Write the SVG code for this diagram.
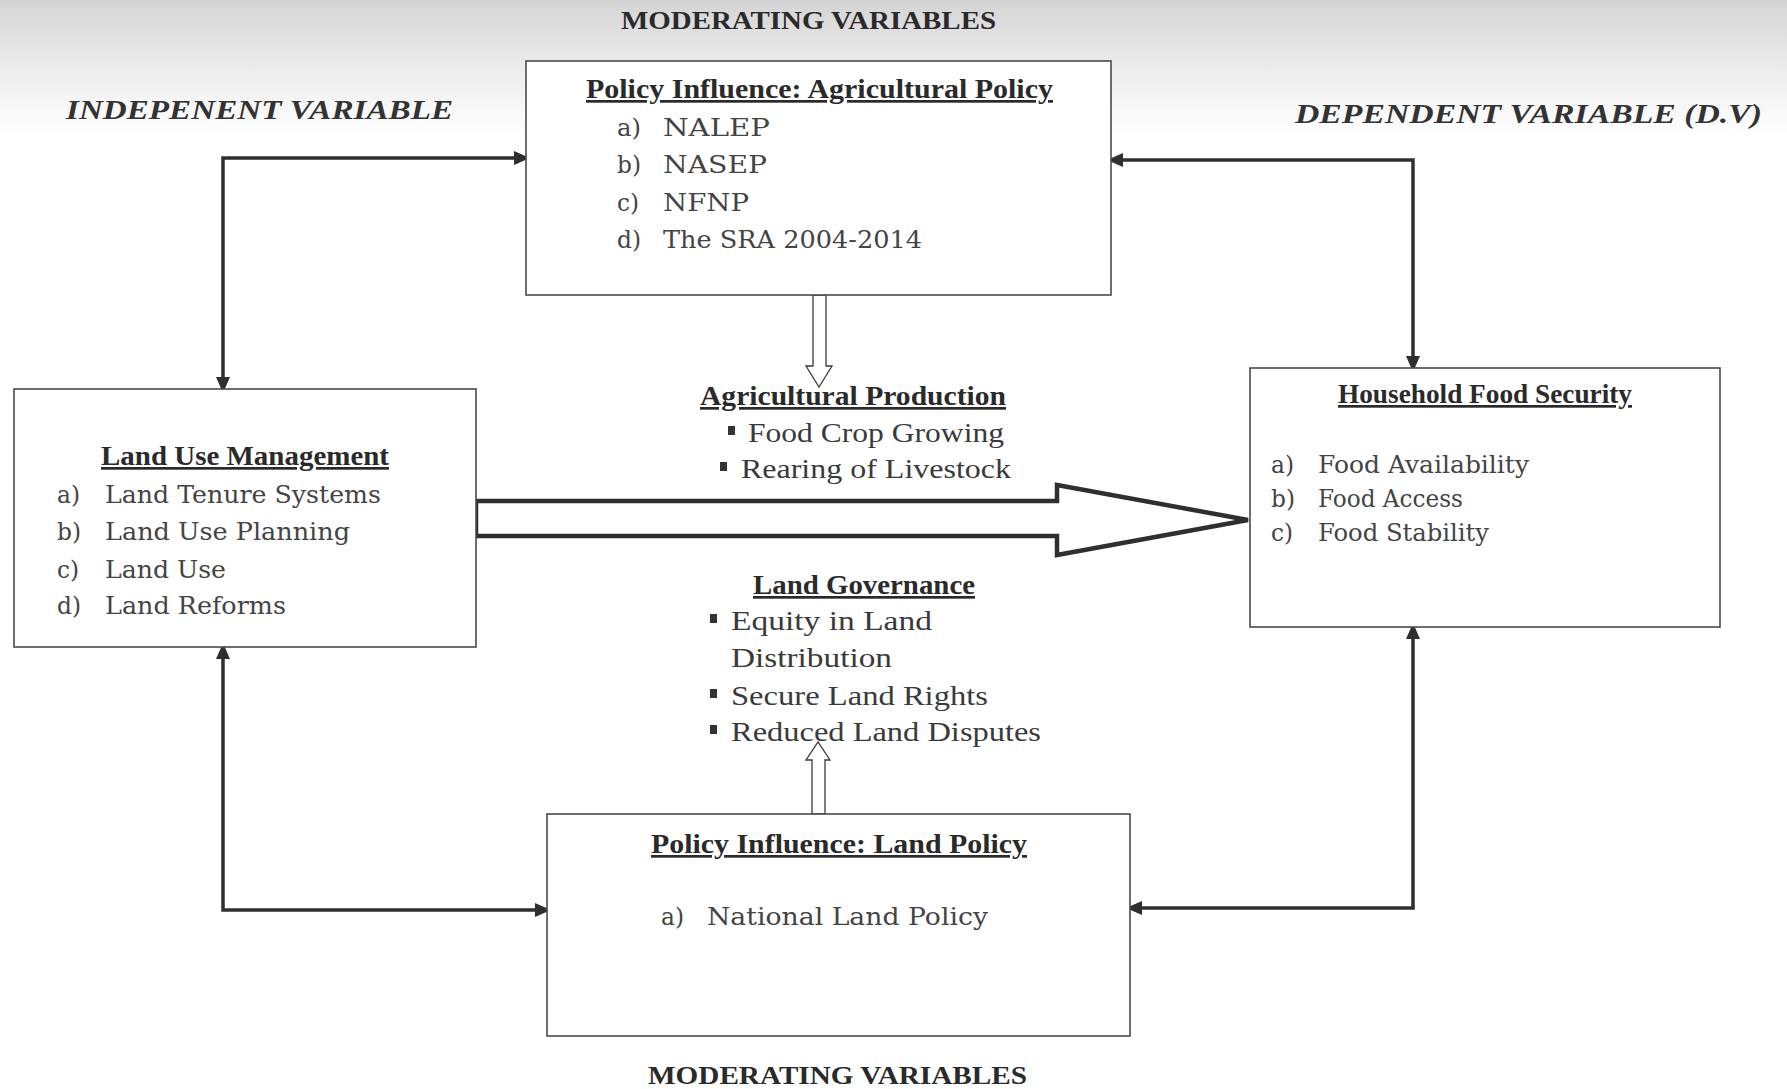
<svg xmlns="http://www.w3.org/2000/svg" width="1787" height="1089" viewBox="0 0 1787 1089">
<defs>
<linearGradient id="bg" x1="0" y1="0" x2="0" y2="1">
<stop offset="0" stop-color="#d4d4d4"/>
<stop offset="0.5" stop-color="#ececec"/>
<stop offset="1" stop-color="#ffffff"/>
</linearGradient>
<marker id="ah" markerUnits="userSpaceOnUse" markerWidth="16" markerHeight="14" refX="12" refY="7" orient="auto-start-reverse" viewBox="0 0 16 14">
<path d="M0,0 L16,7 L0,14 z" fill="#2f2f2f"/>
</marker>
<style>
.box{fill:#ffffff;stroke:#4a4a4a;stroke-width:1.6}
.conn{fill:none;stroke:#2f2f2f;stroke-width:3.5}
.hollow{fill:#ffffff;stroke:#3a3a3a;stroke-width:1.3}
.big{fill:#ffffff;stroke:#2f2f2f;stroke-width:4.5;stroke-linejoin:miter}
.hdr{font-family:"Liberation Serif",serif;font-weight:bold;fill:#2a2a2a}
.side{font-family:"Liberation Serif",serif;font-weight:bold;font-style:italic;fill:#333333;font-size:27px}
.ttl{font-family:"Liberation Serif",serif;font-weight:bold;fill:#2a2a2a;font-size:27px;text-decoration:underline}
.itm{font-family:"DejaVu Serif",serif;fill:#444444;font-size:24px}
.mid{font-family:"Liberation Serif",serif;fill:#3a3a3a;font-size:27px}
.bul{fill:#333333}
</style>
</defs>
<rect x="0" y="0" width="1787" height="1089" fill="#ffffff"/>
<rect x="0" y="0" width="1787" height="135" fill="url(#bg)"/>

<text class="hdr" x="621" y="29" font-size="25" textLength="375" lengthAdjust="spacingAndGlyphs">MODERATING VARIABLES</text>
<text class="side" x="66" y="119" textLength="387" lengthAdjust="spacingAndGlyphs">INDEPENENT VARIABLE</text>
<text class="side" x="1295" y="123" textLength="467" lengthAdjust="spacingAndGlyphs">DEPENDENT VARIABLE (D.V)</text>
<text class="hdr" x="648" y="1084" font-size="25" textLength="379" lengthAdjust="spacingAndGlyphs">MODERATING VARIABLES</text>

<g id="connectors">
<path class="conn" d="M223 389 V158 H526" marker-start="url(#ah)" marker-end="url(#ah)"/>
<path class="conn" d="M1111 160 H1413 V368" marker-start="url(#ah)" marker-end="url(#ah)"/>
<path class="conn" d="M223 647 V910 H547" marker-start="url(#ah)" marker-end="url(#ah)"/>
<path class="conn" d="M1413 627 V908 H1130" marker-start="url(#ah)" marker-end="url(#ah)"/>
<polygon class="big" points="476,501 1057,501 1057,485 1248,520 1057,555 1057,536 476,536"/>
<polygon class="hollow" points="813,295 826,295 826,366 832,366 819,387 806,366 813,366"/>
<polygon class="hollow" points="812,814 825,814 825,760 830,760 818,742 806,760 812,760"/>
</g>

<g id="agricultural-policy">
<rect class="box" x="526" y="61" width="585" height="234"/>
<text class="ttl" x="586" y="98" textLength="467" lengthAdjust="spacingAndGlyphs">Policy Influence: Agricultural Policy</text>
<text class="itm" x="617" y="136" textLength="24" lengthAdjust="spacingAndGlyphs">a)</text>
<text class="itm" x="663" y="136" textLength="107" lengthAdjust="spacingAndGlyphs">NALEP</text>
<text class="itm" x="617" y="173" textLength="24" lengthAdjust="spacingAndGlyphs">b)</text>
<text class="itm" x="663" y="173" textLength="104" lengthAdjust="spacingAndGlyphs">NASEP</text>
<text class="itm" x="617" y="211" textLength="22" lengthAdjust="spacingAndGlyphs">c)</text>
<text class="itm" x="663" y="211" textLength="86" lengthAdjust="spacingAndGlyphs">NFNP</text>
<text class="itm" x="617" y="248" textLength="24" lengthAdjust="spacingAndGlyphs">d)</text>
<text class="itm" x="663" y="248" textLength="259" lengthAdjust="spacingAndGlyphs">The SRA 2004-2014</text>
</g>

<g id="land-use-management">
<rect class="box" x="14" y="389" width="462" height="258"/>
<text class="ttl" x="101" y="465" textLength="288" lengthAdjust="spacingAndGlyphs">Land Use Management</text>
<text class="itm" x="57" y="503" textLength="23" lengthAdjust="spacingAndGlyphs">a)</text>
<text class="itm" x="105" y="503" textLength="276" lengthAdjust="spacingAndGlyphs">Land Tenure Systems</text>
<text class="itm" x="57" y="540" textLength="24" lengthAdjust="spacingAndGlyphs">b)</text>
<text class="itm" x="105" y="540" textLength="245" lengthAdjust="spacingAndGlyphs">Land Use Planning</text>
<text class="itm" x="57" y="578" textLength="22" lengthAdjust="spacingAndGlyphs">c)</text>
<text class="itm" x="105" y="578" textLength="121" lengthAdjust="spacingAndGlyphs">Land Use</text>
<text class="itm" x="57" y="614" textLength="24" lengthAdjust="spacingAndGlyphs">d)</text>
<text class="itm" x="105" y="614" textLength="181" lengthAdjust="spacingAndGlyphs">Land Reforms</text>
</g>

<g id="household-food-security">
<rect class="box" x="1250" y="368" width="470" height="259"/>
<text class="ttl" x="1338" y="403" textLength="294" lengthAdjust="spacingAndGlyphs">Household Food Security</text>
<text class="itm" x="1271" y="473" textLength="23" lengthAdjust="spacingAndGlyphs">a)</text>
<text class="itm" x="1318" y="473" textLength="211" lengthAdjust="spacingAndGlyphs">Food Availability</text>
<text class="itm" x="1271" y="507" textLength="24" lengthAdjust="spacingAndGlyphs">b)</text>
<text class="itm" x="1318" y="507" textLength="145" lengthAdjust="spacingAndGlyphs">Food Access</text>
<text class="itm" x="1271" y="541" textLength="22" lengthAdjust="spacingAndGlyphs">c)</text>
<text class="itm" x="1318" y="541" textLength="171" lengthAdjust="spacingAndGlyphs">Food Stability</text>
</g>

<g id="land-policy">
<rect class="box" x="547" y="814" width="583" height="222"/>
<text class="ttl" x="651" y="853" textLength="376" lengthAdjust="spacingAndGlyphs">Policy Influence: Land Policy</text>
<text class="itm" x="661" y="925" textLength="23" lengthAdjust="spacingAndGlyphs">a)</text>
<text class="itm" x="707" y="925" textLength="281" lengthAdjust="spacingAndGlyphs">National Land Policy</text>
</g>

<g id="agricultural-production">
<text class="ttl" x="700" y="405" textLength="306" lengthAdjust="spacingAndGlyphs">Agricultural Production</text>
<rect class="bul" x="728" y="426" width="7" height="9"/>
<text class="mid" x="748" y="442" textLength="256" lengthAdjust="spacingAndGlyphs">Food Crop Growing</text>
<rect class="bul" x="720" y="462" width="7" height="9"/>
<text class="mid" x="741" y="478" textLength="270" lengthAdjust="spacingAndGlyphs">Rearing of Livestock</text>
</g>

<g id="land-governance">
<text class="ttl" x="753" y="594" textLength="222" lengthAdjust="spacingAndGlyphs">Land Governance</text>
<rect class="bul" x="710" y="614" width="7" height="9"/>
<text class="mid" x="731" y="630" textLength="201" lengthAdjust="spacingAndGlyphs">Equity in Land</text>
<text class="mid" x="731" y="667" textLength="161" lengthAdjust="spacingAndGlyphs">Distribution</text>
<rect class="bul" x="710" y="689" width="7" height="9"/>
<text class="mid" x="731" y="705" textLength="257" lengthAdjust="spacingAndGlyphs">Secure Land Rights</text>
<rect class="bul" x="710" y="725" width="7" height="9"/>
<text class="mid" x="731" y="741" textLength="310" lengthAdjust="spacingAndGlyphs">Reduced Land Disputes</text>
</g>
</svg>
